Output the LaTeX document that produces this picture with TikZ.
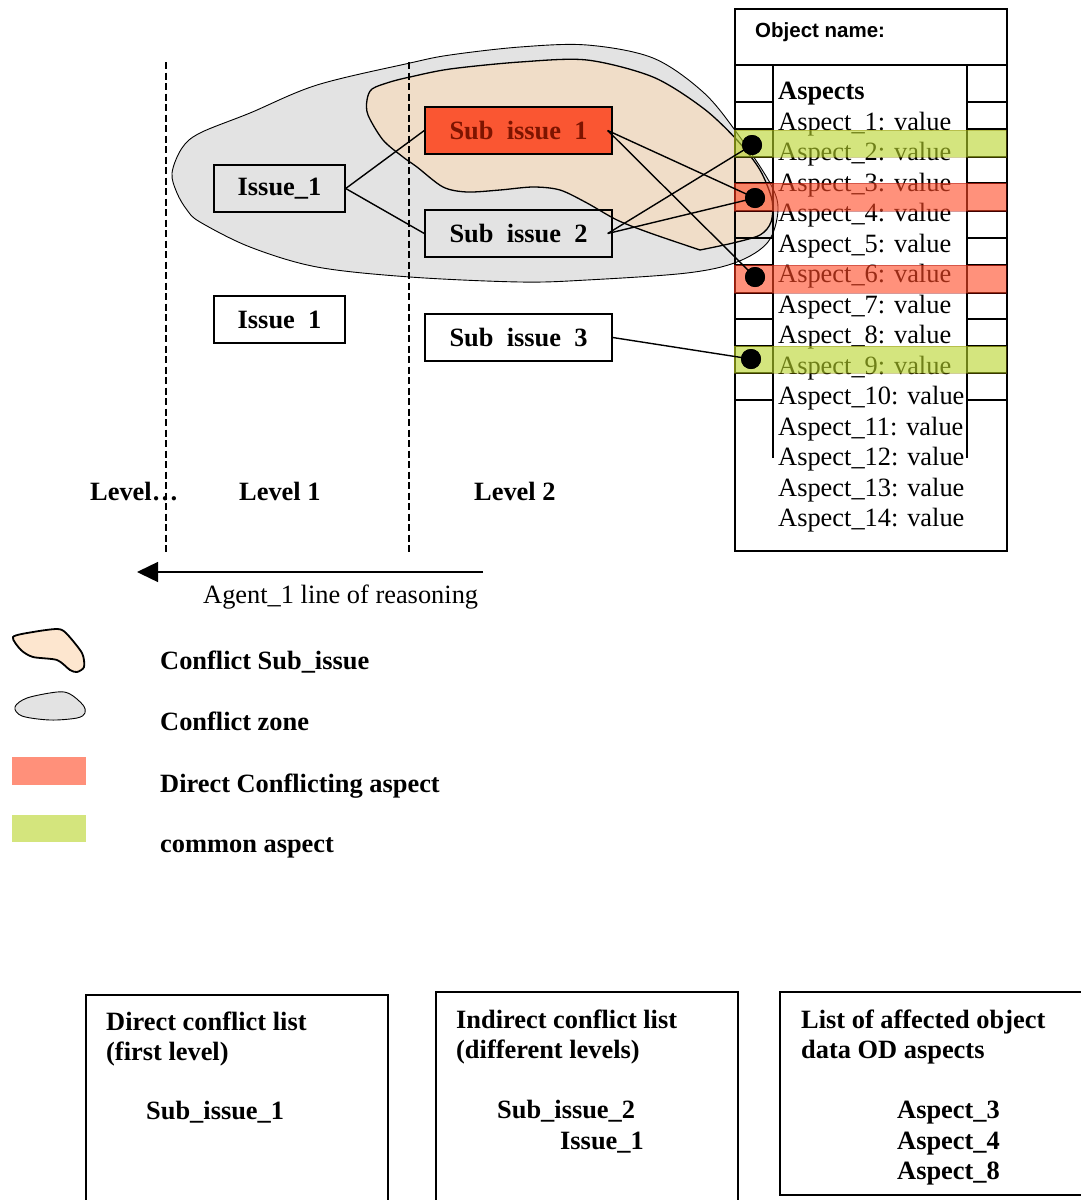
\documentclass[tikz,border=0pt]{standalone}
\usepackage{fontspec}
\setmainfont{Liberation Serif}
\newfontfamily\headfont{Liberation Sans}
\usetikzlibrary{arrows.meta}

\definecolor{zonegray}{RGB}{227,227,227}
\definecolor{subpeach}{RGB}{240,221,200}
\definecolor{legpeach}{RGB}{253,230,207}
\definecolor{subred}{RGB}{250,86,50}
\definecolor{subredtext}{RGB}{125,20,0}
\definecolor{conflictred}{RGB}{255,72,36}
\definecolor{commongreen}{RGB}{184,212,40}
\definecolor{legred}{RGB}{255,144,122}
\definecolor{leggreen}{RGB}{212,229,125}

\begin{document}
\begin{tikzpicture}[x=1pt,y=-1pt,
  every node/.style={inner sep=0pt},
  txt/.style={anchor=base west, font=\fontsize{26.4}{30.5}\selectfont},
  btxt/.style={anchor=base west, font=\fontsize{26.4}{30.5}\selectfont\bfseries},
  issuebox/.style={draw, line width=1.4pt, minimum height=47pt,
    font=\fontsize{26.4}{30.5}\selectfont\bfseries},
  conn/.style={line width=1.4pt},
  dot/.style={circle, fill=black, minimum size=20pt},
  levelline/.style={line width=1.4pt, dash pattern=on 7pt off 3.5pt},
  tableline/.style={line width=1.4pt},
  aspectbar/.style={fill opacity=0.6, draw opacity=0.4, line width=0.8pt}
]
\useasboundingbox (0,0) rectangle (1081,1200);

% ---------- object sheet background ----------
\fill[white] (734,8) rectangle (1006,550);

% ---------- conflict zone ----------
\draw[fill=zonegray, line width=0.9pt] plot[smooth cycle, tension=0.55] coordinates {
  (172,173) (177,193) (187,210) (200,222) (250,247) (317,267) (410,277)
  (520,282) (587,280) (687,273) (737,262) (768,242) (778,210) (770,183)
  (737,133) (703,92) (653,58) (587,45) (520,47) (450,55) (410,63)
  (317,85) (250,113) (200,133) (182,148)};

% ---------- conflicting sub-issue ----------
\draw[fill=subpeach, line width=1.3pt] plot[smooth, tension=0.5] coordinates {
  (700,250) (650,233) (617,220) (587,203) (560,190) (533,187) (500,190)
  (467,192) (443,187) (417,167) (403,157) (383,140) (368,115) (367,100)
  (372,89) (390,82) (410,77) (450,69) (520,62) (587,60) (653,77)
  (703,108) (737,140) (760,170) (772,200) (771,222) (760,235) (733,243)
  (700,250)} -- cycle;

% ---------- level separators ----------
\coordinate (l0t) at (166,62);  \coordinate (l0b) at (166,553);
\coordinate (l1t) at (409,62);  \coordinate (l1b) at (409,553);
\draw[levelline] (l0t) -- (l0b);
\draw[levelline] (l1t) -- (l1b);

% ---------- object sheet ----------
\node[draw, line width=1.8pt, minimum width=272pt, minimum height=542pt,
      anchor=north west] (obj) at (734,8) {};
\draw[tableline] (734,65) -- (1006,65);
\draw[tableline] (773,65) -- (773,458);
\draw[tableline] (967,65) -- (967,458);
\foreach \y in {102,129,157,183,211,238,265,293,319,346,373,400}{
  \draw[tableline] (734,\y) -- (773,\y);
  \draw[tableline] (967,\y) -- (1006,\y);
}
\node[anchor=base west, font=\headfont\bfseries\fontsize{20.5}{24}\selectfont]
  (objname) at (755,37) {Object name:};
\node[btxt] (asp) at (778,99.5) {Aspects};
\foreach \k in {1,...,14}{
  \node[txt] (a\k) at (778,{130+30.5*(\k-1)}) {Aspect\_\k: value};
}

% ---------- highlighted aspects ----------
\fill[aspectbar, fill=commongreen, draw=olive] (734,130) rectangle (1006,157);
\fill[aspectbar, fill=conflictred, draw=red!60!black] (734,183) rectangle (1006,211);
\fill[aspectbar, fill=conflictred, draw=red!60!black] (734,265) rectangle (1006,293);
\fill[aspectbar, fill=commongreen, draw=olive] (734,346) rectangle (1006,373);

% ---------- issues ----------
\node[issuebox, minimum width=131pt] (i1) at (279.5,188.5) {Issue\_1\hspace{10pt}};
\node[issuebox, minimum width=131pt, fill=white] (i2) at (279.5,319.5)
  {Issue\hspace{.5em}1\hspace{10pt}};
\node[issuebox, minimum width=187pt, fill=subred, text=subredtext] (s1)
  at (518.5,130.5) {Sub\hspace{.5em}issue\hspace{.5em}1\hspace{10pt}};
\node[issuebox, minimum width=187pt] (s2) at (518.5,233.5)
  {Sub\hspace{.5em}issue\hspace{.5em}2\hspace{10pt}};
\node[issuebox, minimum width=187pt, fill=white] (s3) at (518.5,337.5)
  {Sub\hspace{.5em}issue\hspace{.5em}3\hspace{10pt}};

% ---------- aspect anchors ----------
\node[dot] (d2)  at (752,145) {};
\node[dot] (d34) at (755,198) {};
\node[dot] (d6)  at (755,277) {};
\node[dot] (d9)  at (751,359) {};

% ---------- links ----------
\draw[conn] (i1.east) -- (s1.west);
\draw[conn] (i1.east) -- (s2.west);
\draw[conn] ([xshift=-5pt]s1.east) -- (d34.center);
\draw[conn] ([xshift=-5pt]s1.east) -- (d6.center);
\draw[conn] ([xshift=-5pt]s2.east) -- (d2.center);
\draw[conn] ([xshift=-5pt]s2.east) -- (d34.center);
\draw[conn] (s3.east) -- (d9.center);
\node[dot] at (d2) {};
\node[dot] at (d34) {};
\node[dot] at (d6) {};
\node[dot] at (d9) {};

% ---------- levels and reasoning direction ----------
\node[btxt] (lvn) at (90,500) {Level…};
\node[btxt] (lv1) at (239,500) {Level 1};
\node[btxt] (lv2) at (474,500) {Level 2};
\coordinate (arrS) at (483,572);
\coordinate (arrE) at (137,572);
\draw[line width=1.4pt, -{Triangle[length=21pt,width=20pt]}] (arrS) -- (arrE);
\node[txt] (agent) at (203,603) {Agent\_1 line of reasoning};

% ---------- legend ----------
\draw[fill=legpeach, line width=1.8pt] plot[smooth cycle, tension=0.45] coordinates {
  (13,637) (33,632) (57,629) (66,633) (82,653) (84,667) (77,672)
  (70,670) (57,660) (33,657) (21,650)};
\draw[fill=zonegray, line width=0.9pt] plot[smooth cycle, tension=0.55] coordinates {
  (15,707) (27,698) (57,692) (70,694) (83,705) (85,713) (77,718)
  (50,720) (22,716)};
\fill[legred] (12,757) rectangle (86,785);
\fill[leggreen] (12,815) rectangle (86,842);
\node[btxt] (lg1) at (160,669) {Conflict Sub\_issue};
\node[btxt] (lg2) at (160,730) {Conflict zone};
\node[btxt] (lg3) at (160,792) {Direct Conflicting aspect};
\node[btxt] (lg4) at (160,852) {common aspect};

% ---------- result lists ----------
\draw[tableline] (86,1210) -- (86,995) -- (388,995) -- (388,1210);
\draw[tableline] (436,1210) -- (436,992) -- (738,992) -- (738,1210);
\draw[tableline] (780,992) rectangle (1095,1195);

\node[btxt] (b1a) at (106,1030) {Direct conflict list};
\node[btxt] (b1b) at (106,1060) {(first level)};
\node[btxt] (b1c) at (146,1119) {Sub\_issue\_1};

\node[btxt] (b2a) at (456,1028) {Indirect conflict list};
\node[btxt] (b2b) at (456,1058) {(different levels)};
\node[btxt] (b2c) at (497,1118) {Sub\_issue\_2};
\node[btxt] (b2d) at (560,1149) {Issue\_1};

\node[btxt] (b3a) at (801,1028) {List of affected object};
\node[btxt] (b3b) at (801,1058) {data OD aspects};
\node[btxt] (b3c) at (897,1118) {Aspect\_3};
\node[btxt] (b3d) at (897,1149) {Aspect\_4};
\node[btxt] (b3e) at (897,1179) {Aspect\_8};
\end{tikzpicture}
\end{document}
